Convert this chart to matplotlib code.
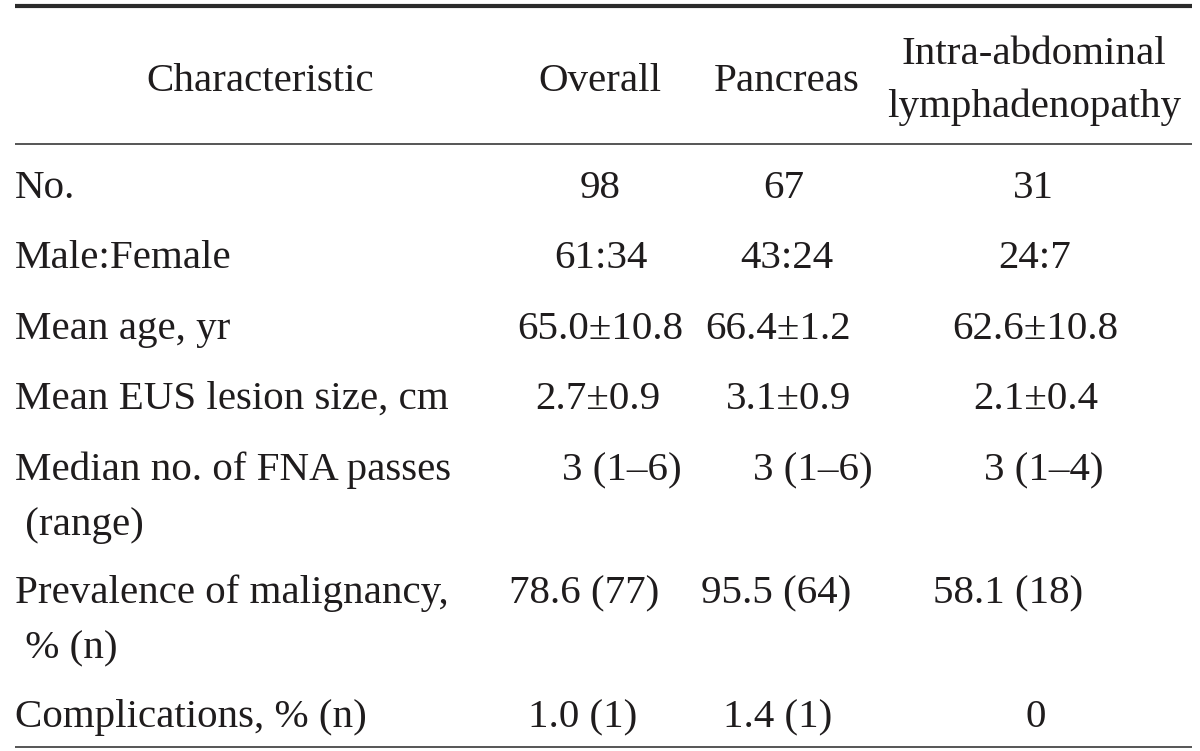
import matplotlib
matplotlib.use("Agg")
import matplotlib.pyplot as plt

# ---- data ----
columns = ["Characteristic", "Overall", "Pancreas", "Intra-abdominal\nlymphadenopathy"]
row_labels = [
    ["No."],
    ["Male:Female"],
    ["Mean age, yr"],
    ["Mean EUS lesion size, cm"],
    ["Median no. of FNA passes", " (range)"],
    ["Prevalence of malignancy,", " % (n)"],
    ["Complications, % (n)"],
]
overall = ["98", "61:34", "65.0\u00b110.8", "2.7\u00b10.9", "3 (1\u20136)", "78.6 (77)", "1.0 (1)"]
pancreas = ["67", "43:24", "66.4\u00b11.2", "3.1\u00b10.9", "3 (1\u20136)", "95.5 (64)", "1.4 (1)"]
lymph = ["31", "24:7", "62.6\u00b110.8", "2.1\u00b10.4", "3 (1\u20134)", "58.1 (18)", "0"]

# ---- layout (pixels) ----
W, H = 1200, 751
FS = 29.5
FONT = "Liberation Serif"
TXT = "#1f1c1d"
label_x = 15
header_cx = [260, 600, 787, 1034]
header_base = 91
header_two_base = [64, 117]
row_base = [198, 268, 339, 409, 480, 603, 727]
line_gap = 55
cell_cx = [
    [600, 601, 600, 598, 622, 584, 583],
    [784, 787, 778, 789, 813, 776, 778],
    [1033, 1035, 1035, 1036, 1044, 1008, 1036],
]

fig = plt.figure(figsize=(W / 100, H / 100), dpi=100)
ax = fig.add_axes([0, 0, 1, 1])
ax.set_xlim(0, W)
ax.set_ylim(H, 0)
ax.axis("off")

kw = dict(fontsize=FS, family=FONT, color=TXT, va="baseline")

# rules
ax.hlines(6, 15, 1192, color="#2b2b2b", lw=3.0)
ax.hlines(143.5, 15, 1192, color="#555555", lw=1.4)
ax.hlines(747, 15, 1192, color="#555555", lw=1.4)

# header
for i, h in enumerate(columns):
    parts = h.split("\n")
    if len(parts) == 1:
        ax.text(header_cx[i], header_base, h, ha="center", **kw)
    else:
        for p, yb in zip(parts, header_two_base):
            ax.text(header_cx[i], yb, p, ha="center", **kw)

# body
for r, lab in enumerate(row_labels):
    for k, part in enumerate(lab):
        ax.text(label_x, row_base[r] + k * line_gap, part, ha="left", **kw)
    for c, col in enumerate([overall, pancreas, lymph]):
        ax.text(cell_cx[c][r], row_base[r], col[r], ha="center", **kw)

fig.savefig("out.png", dpi=100, facecolor="white")
